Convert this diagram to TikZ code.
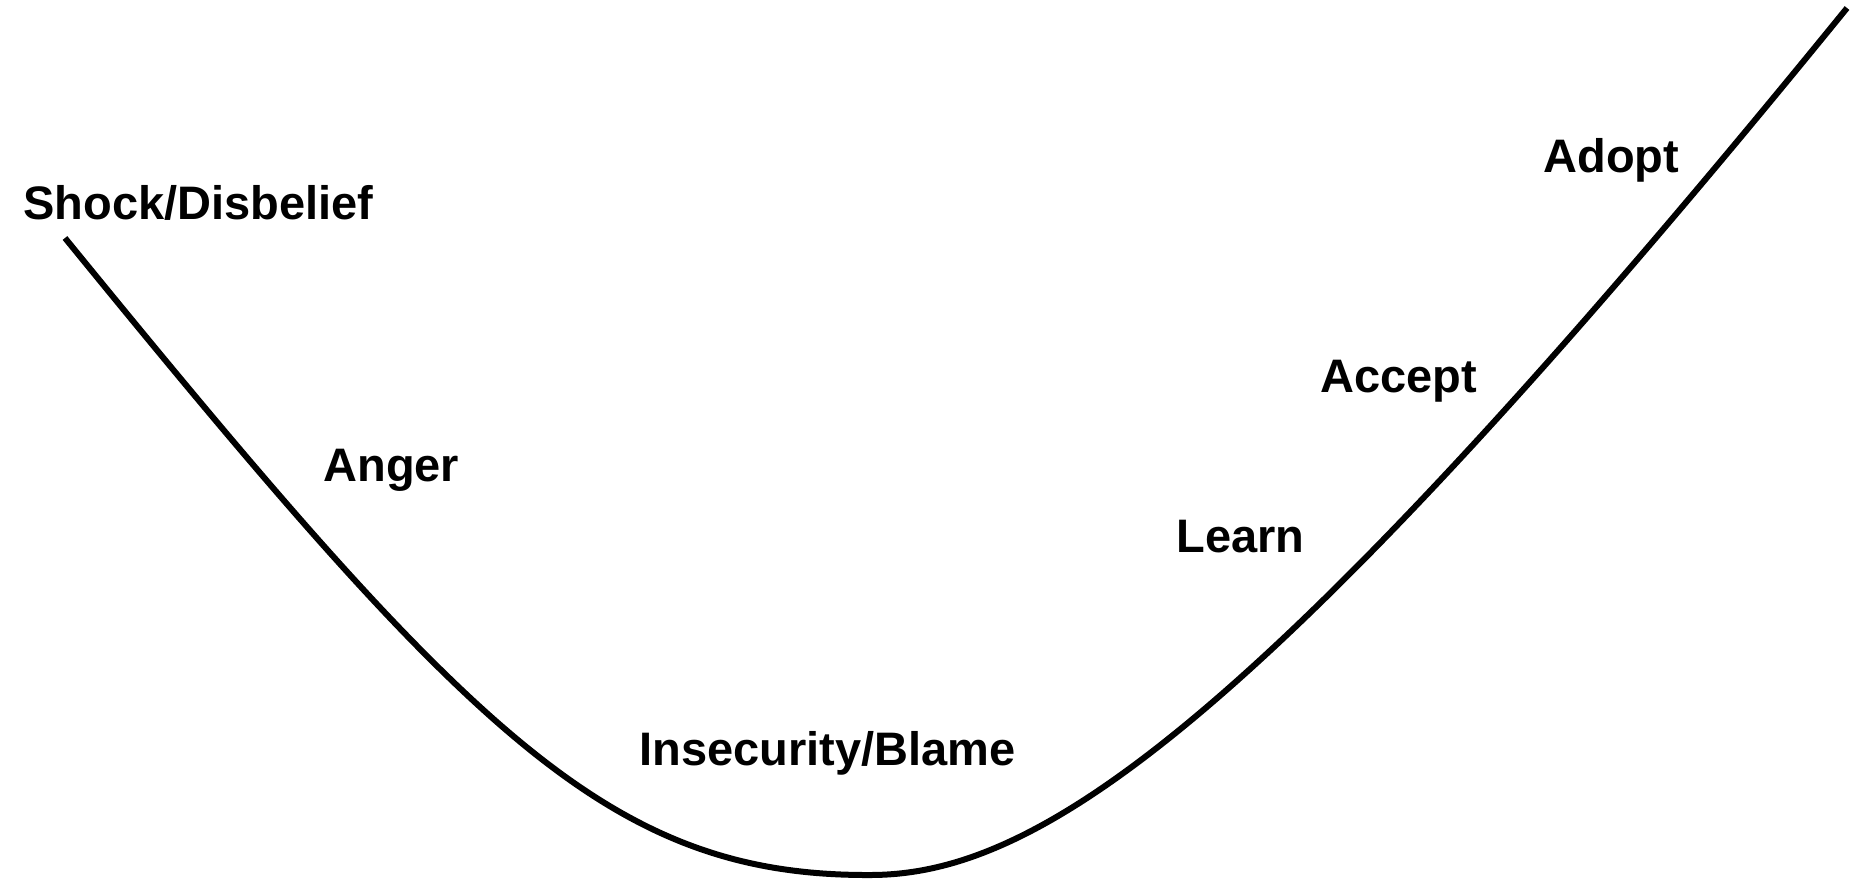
\documentclass[tikz,border=0pt]{standalone}
\usepackage{fontspec}
\setmainfont{Liberation Sans}
\usepackage{tikz}
\usetikzlibrary{positioning}

\begin{document}
\begin{tikzpicture}[
  x=0.5pt,
  y=-0.5pt,
  % Stage label style
  stage/.style={
    anchor=base west,
    inner sep=0pt,
    font=\fontsize{23.5}{28}\selectfont\bfseries
  },
  % Curve style
  curve/.style={
    line width=3pt,
    draw=black,
    line cap=butt
  }
]
\useasboundingbox (0,0) rectangle (1863,879);

% === CURVE POINTS ===
\coordinate (start) at (65,238);
\coordinate (bottom) at (870,875);
\coordinate (finish) at (1847,8);

% === CHANGE CURVE ===
\draw[curve] (start)
  .. controls (470,735) and (610,876) .. (bottom)
  .. controls (1030,875) and (1247,746) .. (finish);

% === STAGES ===
\node[stage] (shock) at (23,219) {Shock/Disbelief};
\node[stage] (anger) at (323,481) {Anger};
\node[stage] (blame) at (639,765) {Insecurity/Blame};
\node[stage] (learn) at (1176,552) {Learn};
\node[stage] (accept) at (1320,392) {Accept};
\node[stage] (adopt) at (1543,172) {Adopt};

\end{tikzpicture}
\end{document}
